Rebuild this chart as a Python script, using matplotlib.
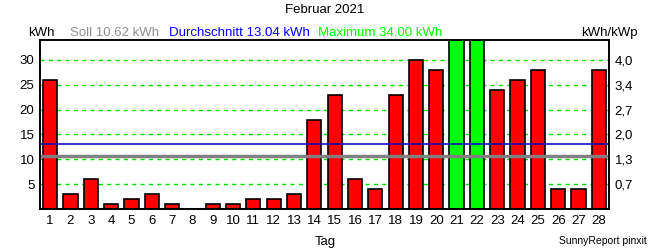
import matplotlib
matplotlib.use("Agg")
import matplotlib.pyplot as plt

plt.rcParams['font.family'] = ['Liberation Sans', 'DejaVu Sans']

# daily yield Februar 2021 (kWh)
days = list(range(1, 29))
kwh = [26, 3, 6, 1, 2, 3, 1, 0, 1, 1, 2, 2, 3, 18, 23, 6, 4, 23, 30, 28,
       34, 34, 24, 26, 28, 4, 4, 28]
soll = 10.62
mittel = 13.04
maximum = 34.00
kwp = 7.5  # kWh per kWp scale factor
yticks = [5, 10, 15, 20, 25, 30]
yticks_right = ["0,7", "1,3", "2,0", "2,7", "3,4", "4,0"]

fig = plt.figure(figsize=(6.5, 2.5), dpi=100)
ax = fig.add_axes([40 / 650, 41 / 250, 569 / 650, 169 / 250])

colors = ['#00ff00' if v >= maximum else '#ff0000' for v in kwh]
ax.bar(days, kwh, width=0.7, color=colors, edgecolor='black', linewidth=1.2, zorder=3)

for y in yticks:
    ax.axhline(y, color='#00e000', linestyle=(0, (3, 3)), linewidth=1, zorder=1)
ax.axhline(mittel, color='#0000c0', linewidth=1.1, zorder=4)
ax.axhline(soll, color='#808080', linewidth=2.5, zorder=4)

ax.set_xlim(0.5, 28.5)
ax.set_ylim(0, 34)
ax.set_xticks(days)
ax.set_xticklabels([str(d) for d in days])
ax.set_yticks(yticks)
ax.tick_params(axis='both', length=0, labelsize=9.5, pad=4)

ax2 = ax.twinx()
ax2.set_ylim(0, 34)
ax2.set_yticks(yticks)
ax2.set_yticklabels(yticks_right)
ax2.tick_params(axis='y', length=0, labelsize=9.5, pad=4)

for a in (ax, ax2):
    for s in a.spines.values():
        s.set_linewidth(1.2)

fig.text(0.5, 0.96, "Februar 2021", ha='center', va='center', fontsize=9.5)
fig.text(28 / 650, 0.868, "kWh", ha='left', va='center', fontsize=9.5)
fig.text(70 / 650, 0.868, "Soll %.2f kWh" % soll, ha='left', va='center', fontsize=9.5, color='#909090')
fig.text(169 / 650, 0.868, "Durchschnitt %.2f kWh" % mittel, ha='left', va='center', fontsize=9.5, color='#0000ff')
fig.text(318 / 650, 0.868, "Maximum %.2f kWh" % maximum, ha='left', va='center', fontsize=9.5, color='#00ff00')
fig.text(638 / 650, 0.868, "kWh/kWp", ha='right', va='center', fontsize=9.5)
fig.text(0.5, 0.032, "Tag", ha='center', va='center', fontsize=9.5)
fig.text(647 / 650, 0.036, "SunnyReport pinxit", ha='right', va='center', fontsize=7.5)

fig.savefig("out.png", dpi=100)
